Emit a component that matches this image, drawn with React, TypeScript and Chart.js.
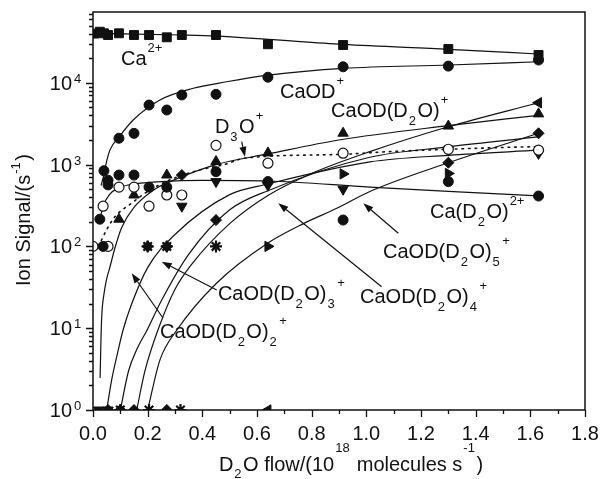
import React, { useEffect, useRef } from "react";
import { Chart, registerables } from "chart.js";

Chart.register(...registerables);

const FONT = "'Liberation Sans', Arial, Helvetica, sans-serif";
const INK = "#111111";

const X_MIN = 0;
const X_MAX = 1.8;
const Y_MIN = 1;
const Y_MAX = 73400;

const xMajorTicks = [0, 0.2, 0.4, 0.6, 0.8, 1.0, 1.2, 1.4, 1.6, 1.8];
const xMajorLabels = ["0.0", "0.2", "0.4", "0.6", "0.8", "1.0", "1.2", "1.4", "1.6", "1.8"];
const xMinorTicks = [0.1, 0.3, 0.5, 0.7, 0.9, 1.1, 1.3, 1.5, 1.7];
const yMajorExponents = [0, 1, 2, 3, 4];
const yMinorMultipliers = [2, 3, 4, 5, 6, 7, 8, 9];

// Ca2+ (squares)
const ca2X = [0.005, 0.025, 0.04, 0.055, 0.095, 0.15, 0.205, 0.27, 0.325, 0.45, 0.64, 0.915, 1.3, 1.63];
const ca2Y = [40000, 42100, 40300, 38400, 40300, 38400, 38400, 36000, 38400, 38400, 29600, 29000, 25900, 21900];
const ca2FitX = [0, 0.325, 0.45, 0.64, 0.915, 1.3, 1.63];
const ca2FitY = [40300, 38400, 37300, 34000, 29500, 25700, 22500];

// CaOD+ (filled circles)
const caodX = [0.04, 0.055, 0.095, 0.15, 0.205, 0.27, 0.325, 0.45, 0.64, 0.915, 1.3, 1.63];
const caodY = [842, 565, 2100, 2410, 5350, 4650, 7100, 7230, 11700, 15700, 16000, 19000];
const caodFitX = [0.03, 0.038, 0.05, 0.062, 0.096, 0.147, 0.245, 0.367, 0.489, 0.642, 0.916, 1.303, 1.63];
const caodFitY = [560, 711, 1100, 1510, 2190, 3510, 6170, 8570, 10300, 12400, 15000, 16500, 18100];

// Ca(D2O)2+ (filled circles)
const cad2oX = [0.025, 0.037, 0.055, 0.095, 0.15, 0.205, 0.27, 0.45, 0.64, 0.915, 1.3, 1.63];
const cad2oY = [215, 100, 645, 745, 745, 530, 530, 820, 620, 210, 620, 413];
const cad2oFitX = [0.025, 0.037, 0.06, 0.095, 0.15, 0.25, 0.4, 0.64, 1.013, 1.3, 1.63];
const cad2oFitY = [210, 310, 430, 520, 580, 620, 640, 630, 530, 470, 415];

// D3O+ (open circles, dotted fit)
const d3oX = [0, 0.037, 0.055, 0.095, 0.15, 0.205, 0.27, 0.325, 0.45, 0.64, 0.915, 1.3, 1.63];
const d3oY = [100, 310, 100, 530, 530, 310, 425, 425, 1720, 1040, 1380, 1540, 1500];
const d3oFitX = [0.02, 0.05, 0.08, 0.14, 0.2, 0.28, 0.39, 0.48, 0.556, 0.9, 1.08, 1.5, 1.63];
const d3oFitY = [100, 160, 230, 335, 470, 648, 860, 1000, 1200, 1330, 1440, 1620, 1660];

// CaOD(D2O)+ (up triangles)
const c1X = [0.095, 0.15, 0.27, 0.45, 0.64, 0.915, 1.3, 1.63];
const c1Y = [215, 425, 746, 1090, 1390, 2420, 2960, 4170];
const c1FitX = [0.026, 0.029, 0.032, 0.04, 0.05, 0.062, 0.08, 0.105, 0.15, 0.226, 0.282, 0.45, 0.64, 0.9, 1.3, 1.63];
const c1FitY = [2.5, 7, 14, 26, 40, 56, 95, 170, 300, 500, 620, 1000, 1350, 2000, 3000, 4000];

// CaOD(D2O)2+ (down triangles)
const c2X = [0.02, 0.055, 0.325, 0.45, 0.64, 0.915, 1.3, 1.63];
const c2Y = [1, 1, 310, 620, 560, 500, 1500, 1370];
const c2FitX = [0.05, 0.07, 0.09, 0.11, 0.142, 0.2, 0.3, 0.5, 0.64, 1.013, 1.3, 1.63];
const c2FitY = [1, 2.5, 5, 9.5, 20, 55, 140, 430, 580, 1080, 1300, 1500];

// CaOD(D2O)3+ (stars)
const c3X = [0.1, 0.205, 0.32, 0.2, 0.27, 0.45];
const c3Y = [1, 1, 1, 100, 100, 100];
const c3FitX = [0.1, 0.13, 0.16, 0.198, 0.251, 0.35, 0.5, 0.64, 1.013, 1.3, 1.63];
const c3FitY = [1, 3, 5.5, 9.5, 22, 80, 280, 480, 1230, 1650, 2180];

// CaOD(D2O)4+ (side triangles)
const c4X = [0.64, 0.64, 0.915, 1.3, 1.63];
const c4Y = [1, 100, 770, 780, 5700];
const c4Rotation = [-90, 90, 90, 90, -90];
const c4FitX = [0.16, 0.19, 0.24, 0.3, 0.36, 0.5, 0.64, 0.8, 1.013, 1.3, 1.63];
const c4FitY = [1, 3, 10, 30, 60, 190, 420, 780, 1440, 2900, 5700];

// CaOD(D2O)5+ (diamonds)
const c5X = [0.055, 0.1, 0.15, 0.27, 0.2, 0.27, 0.325, 0.45, 0.64, 1.3, 1.63];
const c5Y = [1, 1, 1, 1, 100, 100, 745, 210, 600, 1055, 2415];
const c5FitX = [0.2, 0.245, 0.307, 0.45, 0.64, 0.77, 0.89, 1.013, 1.3, 1.63];
const c5FitY = [1, 4.1, 9.5, 35, 110, 190, 290, 470, 1055, 2415];

// annotation texts, placed in data coordinates (x, log10 y)
const noteTexts = [
  "Ca^{2+}",
  "CaOD^{+}",
  "CaOD(D_{2}O)^{+}",
  "D_{3}O^{+}",
  "Ca(D_{2}O)^{2+}",
  "CaOD(D_{2}O)_{5}^{+}",
  "CaOD(D_{2}O)_{4}^{+}",
  "CaOD(D_{2}O)_{3}^{+}",
  "CaOD(D_{2}O)_{2}^{+}",
];
const noteAt = [
  [0.1025, 4.218],
  [0.684, 3.814],
  [0.871, 3.582],
  [0.446, 3.386],
  [1.233, 2.347],
  [1.061, 1.858],
  [0.977, 1.308],
  [0.457, 1.345],
  [0.245, 0.88],
];
// arrows: [tailX, tailLogY, headX, headLogY]
const arrows = [
  [0.544, 3.28, 0.556, 3.097],
  [0.256, 1.125, 0.1416, 1.671],
  [0.4526, 1.467, 0.2514, 1.813],
  [1.056, 1.507, 0.678, 2.527],
  [1.117, 2.16, 0.989, 2.527],
];

const xTitle = "D_{2}O flow/(10^{18} molecules s^{-1})";
const yTitle = "Ion Signal/(s^{-1})";

type Seg = { t: string; k: number };
function parseRich(s: string): Seg[] {
  const out: Seg[] = [];
  let i = 0;
  let buf = "";
  while (i < s.length) {
    const c = s[i];
    if ((c === "_" || c === "^") && s[i + 1] === "{") {
      if (buf) {
        out.push({ t: buf, k: 0 });
        buf = "";
      }
      const j = s.indexOf("}", i + 2);
      out.push({ t: s.slice(i + 2, j), k: c === "_" ? -1 : 1 });
      i = j + 1;
    } else {
      buf += c;
      i++;
    }
  }
  if (buf) out.push({ t: buf, k: 0 });
  return out;
}

function measureRich(ctx: CanvasRenderingContext2D, s: string): number {
  let w = 0;
  for (const seg of parseRich(s)) {
    if (seg.k === 0) {
      ctx.font = `20px ${FONT}`;
      w += ctx.measureText(seg.t).width;
    } else {
      ctx.font = `13px ${FONT}`;
      w += ctx.measureText(seg.t).width + 2.5;
    }
  }
  return w;
}

function drawRich(ctx: CanvasRenderingContext2D, s: string, x: number, y: number, raise: number, drop: number) {
  let cx = x;
  ctx.textAlign = "left";
  ctx.textBaseline = "alphabetic";
  for (const seg of parseRich(s)) {
    if (seg.k === 0) {
      ctx.font = `20px ${FONT}`;
      ctx.fillText(seg.t, cx, y);
      cx += ctx.measureText(seg.t).width;
    } else {
      ctx.font = `13px ${FONT}`;
      ctx.fillText(seg.t, cx + 1, seg.k < 0 ? y + drop : y - raise);
      cx += ctx.measureText(seg.t).width + 2.5;
    }
  }
}

const pairs = (xs: number[], ys: number[]) => xs.map((x, i) => ({ x, y: ys[i] }));

const fitSet = (label: string, xs: number[], ys: number[], dotted = false) => ({
  type: "line" as const,
  label,
  data: pairs(xs, ys),
  showLine: true,
  pointRadius: 0,
  borderColor: INK,
  borderWidth: dotted ? 1.6 : 1.2,
  borderDash: dotted ? [1.6, 5] : [],
  borderCapStyle: "round" as const,
  cubicInterpolationMode: "monotone" as const,
  fill: false,
  clip: 0,
  order: 5,
});

const markSet = (label: string, xs: number[], ys: number[], style: any, radius: number, extra: any = {}) => ({
  type: "scatter" as const,
  label,
  data: pairs(xs, ys),
  showLine: false,
  pointStyle: style,
  pointRadius: radius,
  backgroundColor: INK,
  borderColor: INK,
  borderWidth: 1,
  clip: 0,
  order: 0,
  ...extra,
});

const decorPlugin = {
  id: "decor",
  beforeDraw(chart: any) {
    const { ctx, width, height } = chart;
    ctx.save();
    ctx.fillStyle = "#ffffff";
    ctx.fillRect(0, 0, width, height);
    ctx.restore();
  },
  afterDraw(chart: any) {
    const ctx: CanvasRenderingContext2D = chart.ctx;
    const xs = chart.scales.x;
    const ys = chart.scales.y;
    const a = chart.chartArea;
    ctx.save();
    // annotations
    ctx.fillStyle = INK;
    ctx.strokeStyle = INK;
    noteTexts.forEach((t, i) => {
      const px = xs.getPixelForValue(noteAt[i][0]);
      const py = ys.getPixelForValue(Math.pow(10, noteAt[i][1]));
      drawRich(ctx, t, px, py, 13, 8);
    });
    ctx.lineWidth = 1.2;
    arrows.forEach((ar) => {
      const x0 = xs.getPixelForValue(ar[0]);
      const y0 = ys.getPixelForValue(Math.pow(10, ar[1]));
      const x1 = xs.getPixelForValue(ar[2]);
      const y1 = ys.getPixelForValue(Math.pow(10, ar[3]));
      const ang = Math.atan2(y1 - y0, x1 - x0);
      const L = 10;
      const W = 3.5;
      const bx = x1 - Math.cos(ang) * L;
      const by = y1 - Math.sin(ang) * L;
      ctx.beginPath();
      ctx.moveTo(x0, y0);
      ctx.lineTo(bx, by);
      ctx.stroke();
      ctx.beginPath();
      ctx.moveTo(x1, y1);
      ctx.lineTo(bx + Math.sin(ang) * W, by - Math.cos(ang) * W);
      ctx.lineTo(bx - Math.sin(ang) * W, by + Math.cos(ang) * W);
      ctx.closePath();
      ctx.fill();
    });
    // frame
    ctx.strokeStyle = INK;
    ctx.lineWidth = 1.5;
    ctx.strokeRect(a.left, a.top, a.right - a.left, a.bottom - a.top);
    // ticks
    ctx.lineWidth = 1.3;
    ctx.beginPath();
    xMajorTicks.forEach((v) => {
      const px = Math.round(xs.getPixelForValue(v)) + 0.5;
      ctx.moveTo(px, a.bottom);
      ctx.lineTo(px, a.bottom + 7);
    });
    xMinorTicks.forEach((v) => {
      const px = Math.round(xs.getPixelForValue(v)) + 0.5;
      ctx.moveTo(px, a.bottom);
      ctx.lineTo(px, a.bottom + 4);
    });
    yMajorExponents.forEach((e) => {
      const py = Math.round(ys.getPixelForValue(Math.pow(10, e))) + 0.5;
      ctx.moveTo(a.left, py);
      ctx.lineTo(a.left - 7, py);
      yMinorMultipliers.forEach((m) => {
        const v = m * Math.pow(10, e);
        if (v > Y_MAX) return;
        const q = Math.round(ys.getPixelForValue(v)) + 0.5;
        ctx.moveTo(a.left, q);
        ctx.lineTo(a.left - 4, q);
      });
    });
    ctx.stroke();
    // x tick labels
    ctx.fillStyle = INK;
    ctx.font = `20px ${FONT}`;
    ctx.textAlign = "center";
    ctx.textBaseline = "alphabetic";
    xMajorTicks.forEach((v, i) => {
      ctx.fillText(xMajorLabels[i], xs.getPixelForValue(v), a.bottom + 30);
    });
    // y tick labels 10^n
    yMajorExponents.forEach((e) => {
      const py = ys.getPixelForValue(Math.pow(10, e));
      ctx.font = `20px ${FONT}`;
      ctx.textAlign = "right";
      ctx.fillText("10", a.left - 21, py + 7);
      ctx.font = `13px ${FONT}`;
      ctx.textAlign = "left";
      ctx.fillText(String(e), a.left - 19, py);
    });
    // axis titles
    const xw = measureRich(ctx, xTitle);
    const xc = (a.left + a.right) / 2 + 12;
    drawRich(ctx, xTitle, xc - xw / 2, a.bottom + 61, 19, 7);
    const yw = measureRich(ctx, yTitle);
    ctx.save();
    ctx.translate(30, (a.top + a.bottom) / 2 + 9 + yw / 2);
    ctx.rotate(-Math.PI / 2);
    drawRich(ctx, yTitle, 0, 0, 10, 7);
    ctx.restore();
    ctx.restore();
  },
};

export default function App() {
  const ref = useRef<HTMLCanvasElement | null>(null);
  useEffect(() => {
    if (!ref.current) return;
    const chart = new Chart(ref.current, {
      type: "scatter",
      data: {
        datasets: [
          markSet("Ca2+", ca2X, ca2Y, "rect", 6.3),
          markSet("CaOD+", caodX, caodY, "circle", 5),
          markSet("Ca(D2O)2+", cad2oX, cad2oY, "circle", 5),
          markSet("D3O+", d3oX, d3oY, "circle", 5, { backgroundColor: "#ffffff", borderWidth: 1.2 }),
          markSet("CaOD(D2O)+", c1X, c1Y, "triangle", 6),
          markSet("CaOD(D2O)2+", c2X, c2Y, "triangle", 6, { pointRotation: 180 }),
          markSet("CaOD(D2O)3+", c3X, c3Y, "star", 6, { borderWidth: 2.2 }),
          markSet("CaOD(D2O)4+", c4X, c4Y, "triangle", 6, { pointRotation: c4Rotation }),
          markSet("CaOD(D2O)5+", c5X, c5Y, "rectRot", 5.5),
          fitSet("Ca2+ fit", ca2FitX, ca2FitY),
          fitSet("CaOD+ fit", caodFitX, caodFitY),
          fitSet("Ca(D2O)2+ fit", cad2oFitX, cad2oFitY),
          fitSet("D3O+ fit", d3oFitX, d3oFitY, true),
          fitSet("CaOD(D2O)+ fit", c1FitX, c1FitY),
          fitSet("CaOD(D2O)2+ fit", c2FitX, c2FitY),
          fitSet("CaOD(D2O)3+ fit", c3FitX, c3FitY),
          fitSet("CaOD(D2O)4+ fit", c4FitX, c4FitY),
          fitSet("CaOD(D2O)5+ fit", c5FitX, c5FitY),
        ] as any,
      },
      options: {
        animation: false,
        responsive: false,
        devicePixelRatio: 1,
        events: [],
        layout: { padding: { left: 93, right: 15, top: 12, bottom: 69 } },
        plugins: { legend: { display: false }, tooltip: { enabled: false } },
        scales: {
          x: { type: "linear", min: X_MIN, max: X_MAX, display: false },
          y: { type: "logarithmic", min: Y_MIN, max: Y_MAX, display: false },
        },
      },
      plugins: [decorPlugin],
    });
    return () => chart.destroy();
  }, []);
  return (
    <div style={{ position: "absolute", left: 0, top: 0, width: 600, height: 479, background: "#fff" }}>
      <canvas ref={ref} width={600} height={479} style={{ display: "block", width: 600, height: 479 }} />
    </div>
  );
}
